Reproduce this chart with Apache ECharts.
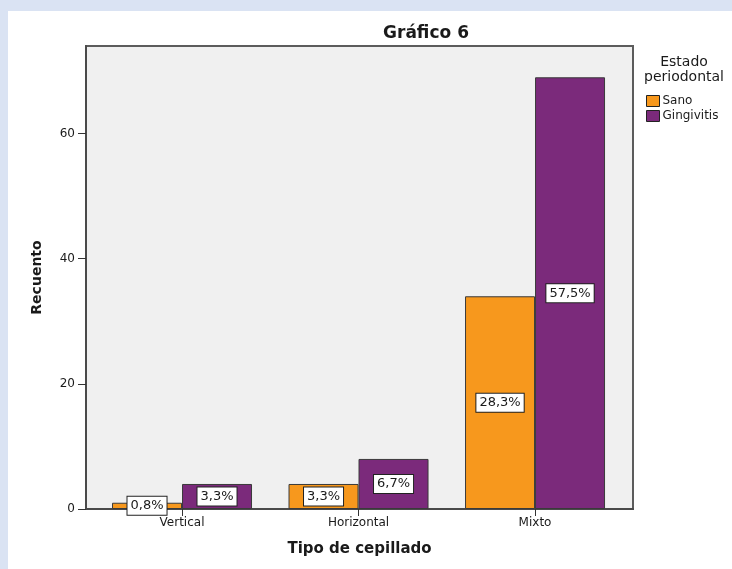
<!DOCTYPE html>
<html>
<head>
<meta charset="utf-8">
<script src="https://cdn.jsdelivr.net/npm/echarts@6/dist/echarts.min.js"></script>
<style>
  html, body { margin: 0; padding: 0; background: #dae3f3; }
  #panel { position: absolute; left: 8px; top: 11px; width: 724px; height: 558px; background: #ffffff; }
  #chart { position: absolute; left: 0; top: 0; width: 732px; height: 569px; }
</style>
</head>
<body>
<div id="panel"></div>
<div id="chart"></div>
<script>
// Brushing type by periodontal state (counts)
const categories = ['Vertical', 'Horizontal', 'Mixto'];
const sano = [1, 4, 34];
const gingivitis = [4, 8, 69];
const yTicks = [0, 20, 40, 60];

const total = sano.concat(gingivitis).reduce((a, b) => a + b, 0);
const pct = v => (v / total * 100).toFixed(1).replace('.', ',') + '%';

const font = 'DejaVu Sans';
const ink = '#1a1a1a';

const labelStyle = {
  show: true,
  position: 'inside',
  formatter: p => pct(p.value[1]),
  fontFamily: font,
  fontSize: 13,
  color: ink,
  backgroundColor: '#ffffff',
  borderColor: '#222222',
  borderWidth: 1,
  padding: [3, 3, 2, 3]
};

const chart = echarts.init(document.getElementById('chart'), null, { renderer: 'canvas' });

chart.setOption({
  animation: false,
  backgroundColor: 'transparent',
  title: [
    {
      text: 'Gráfico 6',
      left: 426, top: 25, textAlign: 'center', padding: 0,
      textStyle: { fontFamily: font, fontSize: 17, fontWeight: 'bold', color: ink }
    },
    {
      text: 'Estado\nperiodontal',
      left: 684, top: 55, textAlign: 'center', padding: 0,
      textStyle: { fontFamily: font, fontSize: 14, fontWeight: 'normal', color: ink, lineHeight: 15 }
    }
  ],
  legend: {
    orient: 'vertical',
    left: 646, top: 95,
    padding: 0,
    itemWidth: 13, itemHeight: 11, itemGap: 3,
    icon: 'rect',
    itemStyle: { borderColor: '#222', borderWidth: 1 },
    textStyle: { fontFamily: font, fontSize: 12, color: ink, padding: [0, 0, 0, -2] },
    data: ['Sano', 'Gingivitis']
  },
  grid: {
    left: 86, right: 99, top: 46, bottom: 60,
    show: true,
    backgroundColor: '#f0f0f0',
    borderColor: '#5c5c5c',
    borderWidth: 2
  },
  xAxis: {
    type: 'value',
    min: -0.544, max: 2.555,
    name: 'Tipo de cepillado',
    nameLocation: 'middle',
    nameGap: 33,
    nameTextStyle: { fontFamily: font, fontSize: 15, fontWeight: 'bold', color: ink },
    axisLine: { show: true, onZero: false, lineStyle: { color: '#4a4a4a', width: 2 } },
    axisTick: { show: true, length: 7, customValues: [0, 1, 2], lineStyle: { color: '#333', width: 1 } },
    axisLabel: {
      customValues: [0, 1, 2],
      formatter: v => categories[Math.round(v)],
      margin: 8,
      fontFamily: font, fontSize: 12, color: ink
    },
    splitLine: { show: false }
  },
  yAxis: {
    type: 'value',
    min: 0, max: 74,
    name: 'Recuento',
    nameLocation: 'middle',
    nameGap: 42,
    nameTextStyle: { fontFamily: font, fontSize: 14, fontWeight: 'bold', color: ink },
    axisLine: { show: true, onZero: false, lineStyle: { color: '#4a4a4a', width: 2 } },
    axisTick: { show: true, length: 8, customValues: yTicks, lineStyle: { color: '#333', width: 1 } },
    axisLabel: {
      customValues: yTicks,
      margin: 11,
      fontFamily: font, fontSize: 12, color: ink
    },
    splitLine: { show: false }
  },
  series: [
    {
      name: 'Sano',
      type: 'bar',
      barWidth: 70,
      barGap: '0%',
      itemStyle: { color: '#f7981d', borderColor: '#3a3a3a', borderWidth: 1 },
      label: labelStyle,
      data: sano.map((v, i) => [i, v])
    },
    {
      name: 'Gingivitis',
      type: 'bar',
      barWidth: 70,
      barGap: '0%',
      itemStyle: { color: '#7b2a7b', borderColor: '#3a3a3a', borderWidth: 1 },
      label: labelStyle,
      data: gingivitis.map((v, i) => [i, v])
    }
  ]
});
</script>
</body>
</html>
